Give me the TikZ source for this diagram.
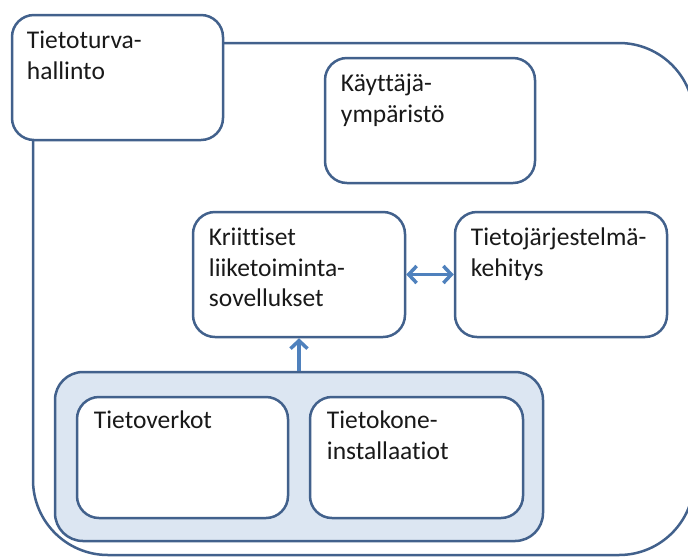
\documentclass[tikz,border=0pt]{standalone}
\usepackage{fontspec}
\setmainfont{Carlito}[Ligatures=NoCommon]
\usetikzlibrary{arrows.meta,calc}
\definecolor{edge}{HTML}{42618C}
\definecolor{flow}{HTML}{4F81BD}
\definecolor{tray}{HTML}{DCE6F2}
\tikzset{
  box/.style={draw=edge, line width=2.5pt, rounded corners=22pt, fill=white, inner sep=0pt},
  lbl/.style={anchor=base west, inner sep=0pt, text width=200pt, align=left,
              font=\fontsize{25.5}{30.5}\selectfont, text=black!90},
  flowarrow/.style={draw=flow, line width=3.5pt,
              arrows={-Straight Barb[length=8pt,width=17pt]}},
  flowboth/.style={draw=flow, line width=3.5pt,
              arrows={Straight Barb[length=8pt,width=17pt]-Straight Barb[length=8pt,width=17pt]}}
}
\begin{document}
\begin{tikzpicture}[x=1pt,y=-1pt]
  \useasboundingbox (0,0) rectangle (688,558);
  \clip (0,0) rectangle (688,558);

  % enclosing frame of the management area
  \node[draw=edge, line width=2.5pt, rounded corners=75pt, inner sep=0pt,
        minimum width=661pt, minimum height=512pt] (frame) at (363.5,299) {};

  % boxes
  \node[box, minimum width=211pt, minimum height=125pt] (tt)  at (117.5,77.5) {};
  \node[box, minimum width=210pt, minimum height=125pt] (kay) at (430,120.5) {};
  \node[box, minimum width=212pt, minimum height=125pt] (kri) at (299,274.5) {};
  \node[box, minimum width=212pt, minimum height=125pt] (tj)  at (561,274.5) {};
  \node[box, fill=tray, rounded corners=28pt,
        minimum width=488pt, minimum height=169pt] (base) at (299,456.5) {};
  \node[box, minimum width=211pt, minimum height=121pt] (tv) at (182.5,457.5) {};
  \node[box, minimum width=213pt, minimum height=121pt] (tk) at (416.5,457.5) {};

  % labels
  \node[lbl] (tt-t)  at ($(tt.north west)+(16,35)$)  {Tietoturva-\\hallinto};
  \node[lbl] (kay-t) at ($(kay.north west)+(17,35)$) {Käyttäjä-\\ympäristö};
  \node[lbl] (kri-t) at ($(kri.north west)+(17,35)$) {Kriittiset\\liiketoiminta-\\sovellukset};
  \node[lbl] (tj-t)  at ($(tj.north west)+(17,35)$)  {Tietojärjestelmä-\\kehitys};
  \node[lbl] (tv-t)  at ($(tv.north west)+(18,33)$)  {Tietoverkot};
  \node[lbl] (tk-t)  at ($(tk.north west)+(18,33)$)  {Tietokone-\\installaatiot};

  % connectors
  \draw[flowarrow] (base.north) -- (kri.south);
  \draw[flowboth] (kri.east) -- (tj.west);
\end{tikzpicture}
\end{document}
